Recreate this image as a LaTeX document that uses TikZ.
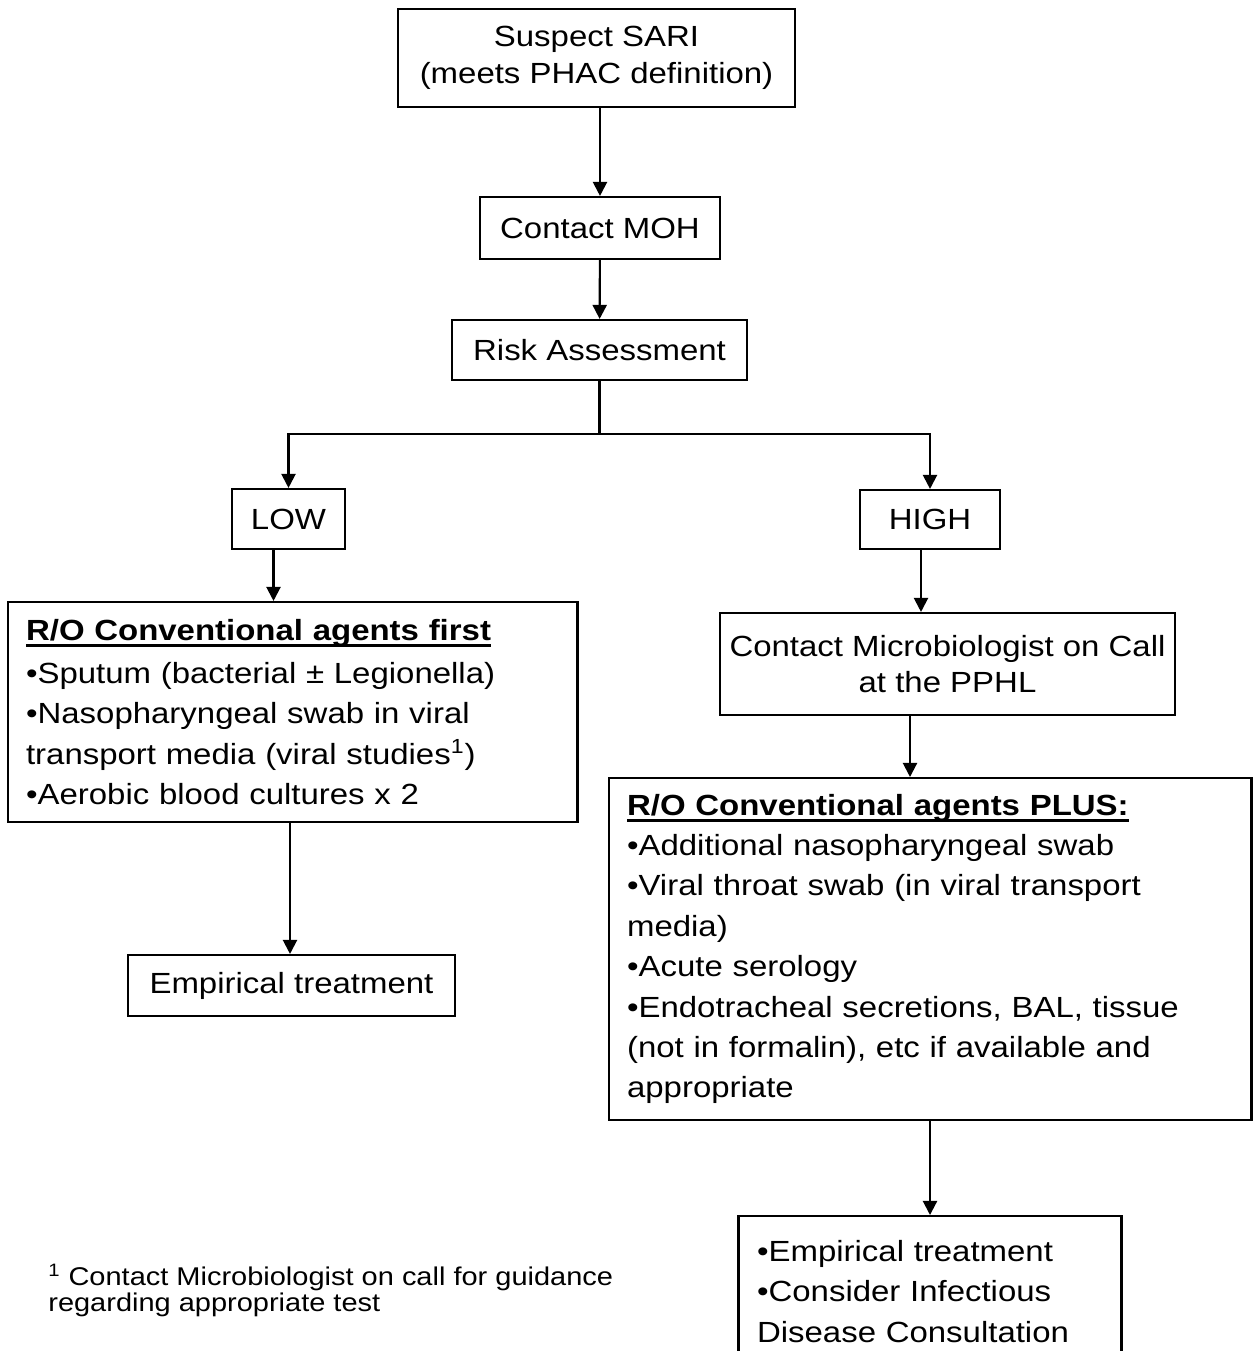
\documentclass[tikz,border=0pt]{standalone}
\usepackage{fontspec}
\setmainfont{Liberation Sans}[FakeStretch=1.13]
\usetikzlibrary{arrows.meta,positioning,calc}
\newcommand{\ulhead}[1]{\setbox0\hbox{\bfseries #1}\rlap{\rule[-3.9pt]{\wd0}{1.6pt}}\box0}
\tikzset{
  flowbox/.style={draw,line width=1.2pt,inner sep=0pt,align=center,
                  font=\fontsize{16.6}{20.7}\selectfont},
  listbox/.style={draw,line width=1.2pt,inner xsep=0.37cm,inner ysep=0pt,align=left,
                  font=\fontsize{16.6}{23}\selectfont},
  flowline/.style={line width=1.2pt},
  flowarrow/.style={flowline,-{Triangle[width=8pt,length=8pt]}},
}

\begin{document}
\begin{tikzpicture}[x=0.02cm,y=-0.02cm]
  \useasboundingbox (0,0) rectangle (1253,1351);
  \clip (0,0) rectangle (1253,1351);
  % top of the chart
  \node[flowbox,minimum width=7.94cm,minimum height=1.96cm] (sari) at (596.5,58) {Suspect SARI\\(meets PHAC definition)};
  \node[flowbox,minimum width=4.8cm,minimum height=1.24cm] (moh) at (600,228) {Contact MOH};
  \node[flowbox,minimum width=5.9cm,minimum height=1.2cm] (risk) at (599.5,350) {Risk Assessment};
  \node[flowbox,minimum width=2.26cm,minimum height=1.2cm] (low) at (288.5,519) {LOW};
  \node[flowbox,minimum width=2.8cm,minimum height=1.18cm] (high) at (930,519.5) {HIGH};
  % low risk branch
  \node[listbox,text width=10.66cm,minimum height=4.4cm] (convfirst) at (292.5,712)
    {\ulhead{R/O Conventional agents first}\\[1.5pt]
     •Sputum (bacterial ± Legionella)\\
     •Nasopharyngeal swab in viral\\transport media (viral studies\textsuperscript{1})\\
     •Aerobic blood cultures x 2};
  \node[flowbox,minimum width=6.54cm,minimum height=1.22cm] (emplow) at (291.5,985.5) {Empirical treatment};
  % high risk branch
  \node[flowbox,minimum width=9.1cm,minimum height=2.04cm] (micro) at (947.5,664) {Contact Microbiologist on Call\\at the PPHL};
  \node[listbox,text width=12.12cm,minimum height=6.84cm] (convplus) at (930,949)
    {\ulhead{R/O Conventional agents PLUS:}\\
     •Additional nasopharyngeal swab\\
     •Viral throat swab (in viral transport\\media)\\
     •Acute serology\\
     •Endotracheal secretions, BAL, tissue\\(not in formalin), etc if available and\\appropriate};
  \node[listbox,text width=6.92cm,inner ysep=0.48cm,anchor=north] (emphigh) at (930,1215)
    {•Empirical treatment\\
     •Consider Infectious\\Disease Consultation};
  \node[anchor=north west,inner sep=0pt,align=left,font=\fontsize{14.6}{14.6}\selectfont] (note) at (48,1264)
    {\textsuperscript{1} Contact Microbiologist on call for guidance\\regarding appropriate test};

  \draw[flowarrow] (sari.south -| moh.north) -- (moh.north);
  \draw[flowarrow] (moh) -- (risk);
  \draw[flowline] (risk.south) -- ++(0,53) coordinate (split);
  \draw[flowarrow] (split) -| (low.north);
  \draw[flowarrow] (split) -| (high.north);
  \draw[flowarrow] (low.south) ++(-15,0) coordinate (lowout) -- (lowout |- convfirst.north);
  \draw[flowarrow] (convfirst.south) ++(-2.5,0) coordinate (firstout) -- (firstout |- emplow.north);
  \draw[flowarrow] (high.south) ++(-9,0) coordinate (highout) -- (highout |- micro.north);
  \draw[flowarrow] (micro.south) ++(-37.5,0) coordinate (microout) -- (microout |- convplus.north);
  \draw[flowarrow] (convplus.south) -- (emphigh.north);
\end{tikzpicture}
\end{document}
